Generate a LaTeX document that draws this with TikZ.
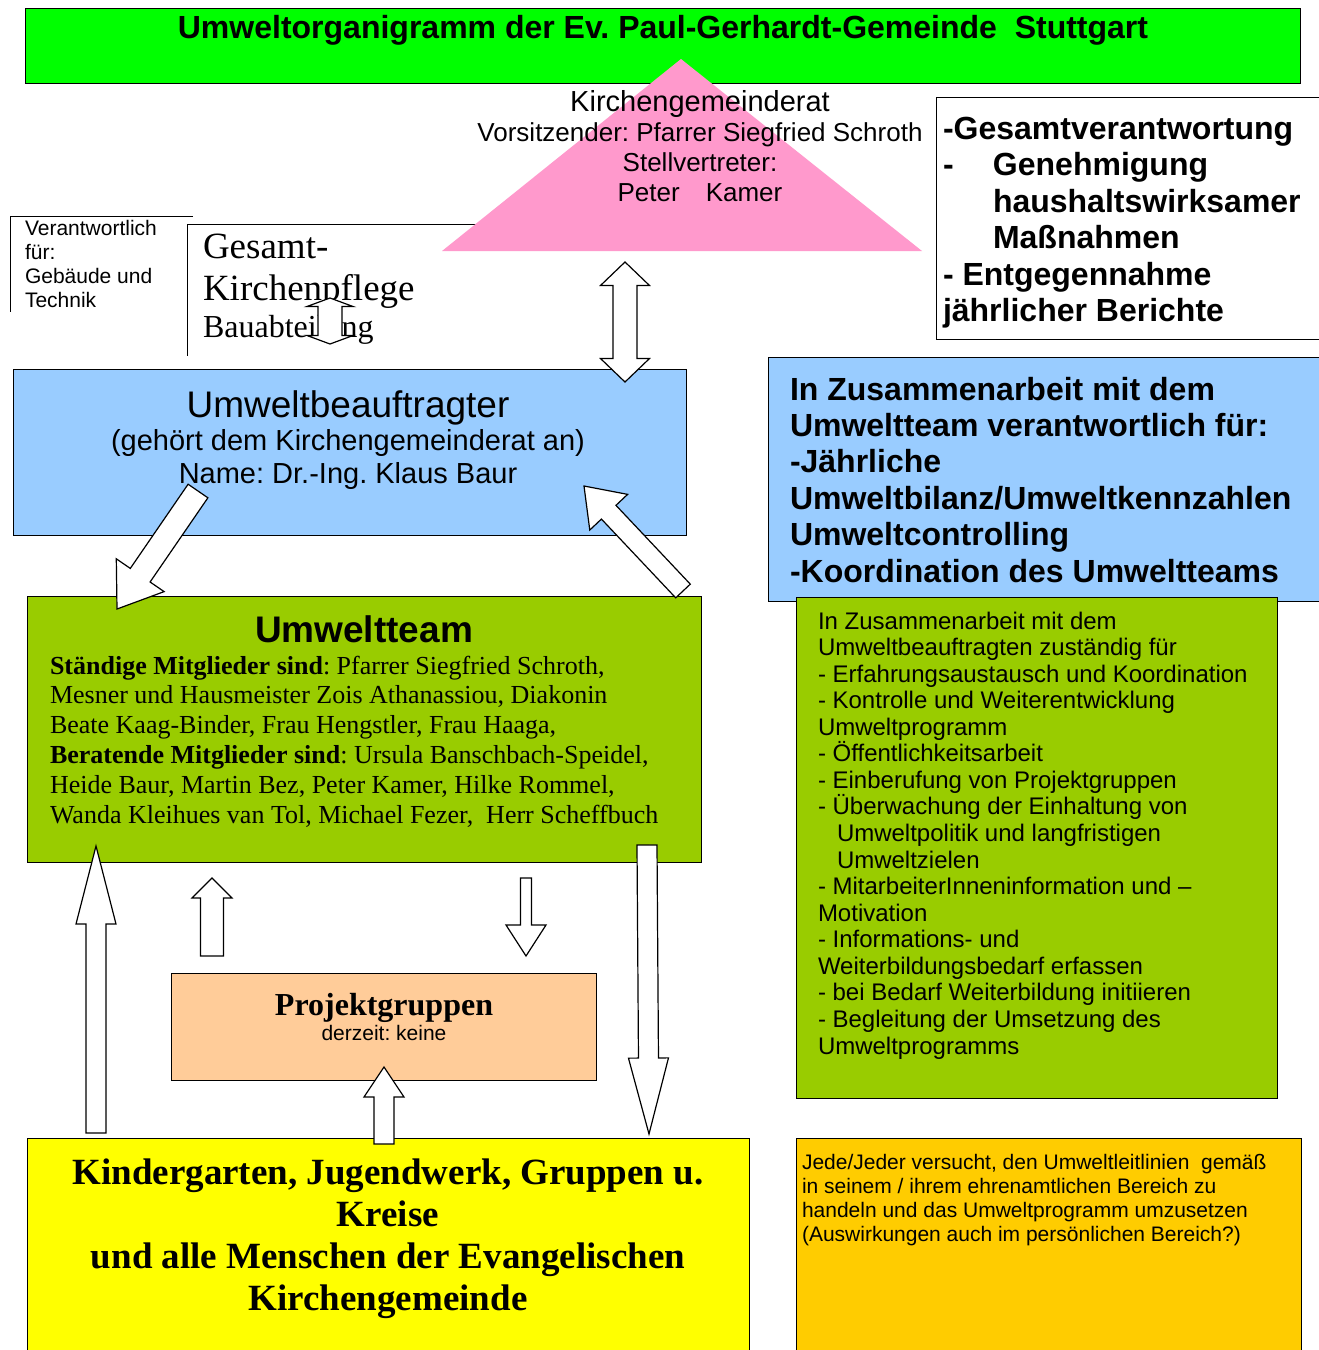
\documentclass[tikz,border=0pt]{standalone}
\usepackage{fontspec}
\setmainfont{Liberation Sans}
\newfontfamily\timesfont{Liberation Serif}
\usepackage{tikz}
\usetikzlibrary{positioning}
\usetikzlibrary{calc}
\frenchspacing
\definecolor{titlegreen}{HTML}{00FF00}
\definecolor{kgrpink}{HTML}{FF99CC}
\definecolor{beaublue}{HTML}{99CCFF}
\definecolor{teamgreen}{HTML}{99CC00}
\definecolor{projpeach}{HTML}{FFCC99}
\definecolor{kitayellow}{HTML}{FFFF00}
\definecolor{alleorange}{HTML}{FFCC00}
\tikzstyle{box}=[rectangle,draw=black,line width=1pt,anchor=north west,inner sep=0pt]
\tikzstyle{txt}=[inner sep=0pt,outer sep=0pt]
\tikzstyle{arrowbody}=[draw=black,fill=white,line width=1.2pt,line join=miter]
\newcommand{\fs}[2]{\fontsize{#1}{#2}\selectfont}
% tail, tip, shaft half width, head half width, head length
\newcommand{\blockarrow}[5]{%
  \path ($(#2)!#5!(#1)$) coordinate (hb);
  \draw[arrowbody] ($(#1)!#3!90:(#2)$) -- ($(hb)!#3!90:(#2)$) -- ($(hb)!#4!90:(#2)$) -- (#2)
    -- ($(hb)!#4!-90:(#2)$) -- ($(hb)!#3!-90:(#2)$) -- ($(#1)!#3!-90:(#2)$) -- cycle;
}
\newcommand{\dblblockarrow}[5]{%
  \path ($(#1)!#5!(#2)$) coordinate (ha) ($(#2)!#5!(#1)$) coordinate (hb);
  \draw[arrowbody] (#1) -- ($(ha)!#4!90:(#2)$) -- ($(ha)!#3!90:(#2)$) -- ($(hb)!#3!90:(#2)$)
    -- ($(hb)!#4!90:(#2)$) -- (#2) -- ($(hb)!#4!-90:(#2)$) -- ($(hb)!#3!-90:(#2)$)
    -- ($(ha)!#3!-90:(#2)$) -- ($(ha)!#4!-90:(#2)$) -- cycle;
}

\begin{document}
\begin{tikzpicture}[x=1pt,y=-1pt]

    \useasboundingbox (0,0) rectangle (1318,1350);
    \fill[white] (0,0) rectangle (1318,1350);

    % open frames
    \draw[line width=1pt] (193,216) -- (10,216) -- (10,312);
    \draw[line width=1pt] (480,224) -- (187,224) -- (187,356);

    \foreach \pos/\name/\w/\h/\col in {{(25,8)/title/1275/75/titlegreen}, {(13,369)/beau/673/166/beaublue},
        {(27,596)/team/674/266/teamgreen}, {(171,973)/proj/425/107/projpeach}, {(27,1138)/kita/722/230/kitayellow},
        {(936,97)/kgraufg/400/242/white}, {(768,357)/beauaufg/570/244/beaublue}, {(796,597)/teamaufg/481/501/teamgreen},
        {(796,1138)/alle/505/230/alleorange}}
        \node[box,fill=\col,minimum width=\w pt,minimum height=\h pt] (\name) at \pos {};

    \fill[kgrpink] (681,59) -- (922,251) -- (442,251) -- cycle;

    % texts (base = last line)
    \node[txt,anchor=base,font=\bfseries\fs{32}{36}] (titletext) at (663,38)
        {Umweltorganigramm der Ev. Paul-Gerhardt-Gemeinde~ Stuttgart};
    \node[txt,anchor=base,align=center,font=\fs{26}{30}] (kgr) at (700,201)
        {{\fs{29}{30}Kirchengemeinderat}\\Vorsitzender: Pfarrer Siegfried Schroth\\Stellvertreter:\\Peter\hspace{26pt}Kamer};
    \node[txt,anchor=base west,align=left,font=\fs{21}{23.7}] (gt) at (25,307)
        {Verantwortlich\\für:\\Gebäude und\\Technik};
    \node[txt,anchor=base west,align=left,font=\timesfont\fs{37}{42}] (kp) at (203,300) {Gesamt-\\Kirchenpflege};
    \node[txt,anchor=base west,font=\timesfont\fs{32}{36}] (bau) at (203,337) {Bauabteilung};
    \node[txt,anchor=base west,align=left,font=\bfseries\fs{32}{36.5}] (kgrtext) at (943,321.5)
        {-Gesamtverantwortung\\\makebox[50pt][l]{-}Genehmigung\\\hspace*{50pt}haushaltswirksamer\\\hspace*{50pt}Maßnahmen\\- Entgegennahme\\jährlicher Berichte};
    \node[txt,anchor=base,align=center,font=\fs{29}{33}] (beautext) at (348,483)
        {{\fs{37}{33}Umweltbeauftragter}\\(gehört dem Kirchengemeinderat an)\\Name: Dr.-Ing. Klaus Baur};
    \node[txt,anchor=base west,align=left,font=\bfseries\fs{32}{36.4}] (beauaufgtext) at (790,582)
        {In Zusammenarbeit mit dem\\Umweltteam verantwortlich für:\\-Jährliche\\Umweltbilanz/Umweltkennzahlen\\Umweltcontrolling\\-Koordination des Umweltteams};
    \node[txt,anchor=base west,align=left,font=\fs{24}{26.56}] (teamaufgtext) at (818,1054)
        {In Zusammenarbeit mit dem\\Umweltbeauftragten zuständig für\\- Erfahrungsaustausch und Koordination\\- Kontrolle und Weiterentwicklung\\Umweltprogramm\\- Öffentlichkeitsarbeit\\- Einberufung von Projektgruppen\\- Überwachung der Einhaltung von\\\hspace*{19pt}Umweltpolitik und langfristigen\\\hspace*{19pt}Umweltzielen\\- MitarbeiterInneninformation und –\\Motivation\\- Informations- und\\Weiterbildungsbedarf erfassen\\- bei Bedarf Weiterbildung initiieren\\- Begleitung der Umsetzung des\\Umweltprogramms};
    \node[txt,anchor=base,font=\bfseries\fs{37}{40}] (teamtitle) at (364,642) {Umweltteam};
    \node[txt,anchor=base west,align=left,font=\timesfont\fs{26}{29.8}] (members) at (50,823)
        {\textbf{Ständige Mitglieder sind}: Pfarrer Siegfried Schroth,\\Mesner und Hausmeister Zois Athanassiou, Diakonin\\Beate Kaag-Binder, Frau Hengstler, Frau Haaga,\\\textbf{Beratende Mitglieder sind}: Ursula Banschbach-Speidel,\\Heide Baur, Martin Bez, Peter Kamer, Hilke Rommel,\\Wanda Kleihues van Tol, Michael Fezer,~ Herr Scheffbuch};
    \node[txt,anchor=base,font=\timesfont\bfseries\fs{32}{36}] (projtitle) at (384,1015) {Projektgruppen};
    \node[txt,anchor=base,font=\fs{21}{24}] (projnote) at (384,1040) {derzeit: keine};
    \node[txt,anchor=base,align=center,font=\timesfont\bfseries\fs{37}{42}] (kitatext) at (388,1310)
        {Kindergarten, Jugendwerk, Gruppen u.\\Kreise\\und alle Menschen der Evangelischen\\Kirchengemeinde};
    \node[txt,anchor=base west,align=left,font=\fs{21}{24}] (alletext) at (802,1241)
        {Jede/Jeder versucht, den Umweltleitlinien~ gemäß\\in seinem / ihrem ehrenamtlichen Bereich zu\\handeln und das Umweltprogramm umzusetzen\\(Auswirkungen auch im persönlichen Bereich?)};

    % block arrows
    \coordinate (kgr-s) at (625,262);
    \coordinate (beau-n) at (625,382);
    \coordinate (kp-n) at (330,298);
    \coordinate (kp-s) at (330,344);
    \coordinate (beau-sw) at (198,491);
    \coordinate (team-nw) at (117,609);
    \coordinate (team-ne) at (683,591);
    \coordinate (beau-se) at (584,486);
    \coordinate (kita-nw) at (96,1133);
    \coordinate (team-sw) at (96,846);
    \coordinate (proj-nw) at (212,956);
    \coordinate (team-s1) at (212,878);
    \coordinate (team-s2) at (526,878);
    \coordinate (proj-ne) at (526,956);
    \coordinate (kita-n) at (384,1144);
    \coordinate (proj-s) at (384,1067);
    \coordinate (team-se) at (647,845);
    \coordinate (kita-ne) at (649,1134);

    \dblblockarrow{kgr-s}{beau-n}{12pt}{24.5pt}{23.5pt}
    \dblblockarrow{kp-n}{kp-s}{12pt}{23pt}{8.5pt}
    \blockarrow{beau-sw}{team-nw}{12pt}{29pt}{41pt}
    \blockarrow{team-ne}{beau-se}{10pt}{26pt}{36pt}
    \blockarrow{kita-nw}{team-sw}{10pt}{20pt}{78pt}
    \blockarrow{proj-nw}{team-s1}{11.5pt}{20pt}{20pt}
    \blockarrow{team-s2}{proj-ne}{5.5pt}{20pt}{31pt}
    \blockarrow{kita-n}{proj-s}{10pt}{20pt}{30pt}
    \blockarrow{team-se}{kita-ne}{10pt}{20pt}{76pt}

\end{tikzpicture}
\end{document}
